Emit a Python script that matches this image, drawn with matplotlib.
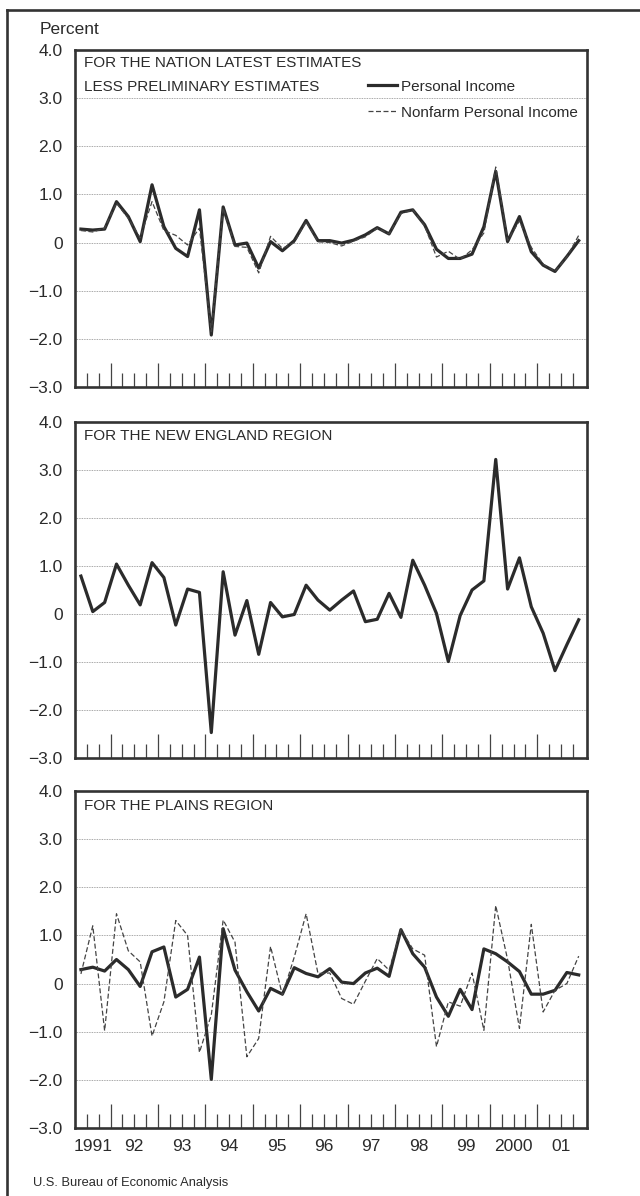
import matplotlib.pyplot as plt
import matplotlib.transforms as mtransforms
from matplotlib.lines import Line2D
import numpy as np

# quarterly data, 1991:II to 2001:IV
year_labels = ['1991', '92', '93', '94', '95', '96', '97', '98', '99', '2000', '01']

nation_pi = [0.28, 0.26, 0.28, 0.85, 0.54, 0.02, 1.2, 0.33, -0.12, -0.29, 0.68,
             -1.92, 0.74, -0.05, -0.01, -0.53, 0.02, -0.17, 0.04, 0.46, 0.04,
             0.04, -0.01, 0.05, 0.16, 0.31, 0.18, 0.63, 0.68, 0.37, -0.14, -0.33,
             -0.33, -0.24, 0.33, 1.48, 0.02, 0.54, -0.19, -0.47, -0.6, -0.29, 0.04]
nation_nonfarm = [0.25, 0.22, 0.3, 0.82, 0.5, 0.1, 0.85, 0.25, 0.15, -0.05, 0.3,
                  -1.85, 0.72, -0.08, -0.1, -0.63, 0.13, -0.12, 0.0, 0.44, 0.02,
                  0.0, -0.07, 0.03, 0.12, 0.3, 0.18, 0.6, 0.68, 0.35, -0.3, -0.18,
                  -0.35, -0.15, 0.2, 1.57, 0.05, 0.45, -0.1, -0.45, -0.6, -0.3, 0.15]
new_england_pi = [0.79, 0.05, 0.24, 1.04, 0.6, 0.19, 1.07, 0.76, -0.23, 0.52, 0.45,
                  -2.47, 0.88, -0.44, 0.28, -0.84, 0.24, -0.06, -0.01, 0.6, 0.29,
                  0.08, 0.29, 0.48, -0.16, -0.11, 0.43, -0.07, 1.12, 0.6, 0.01, -0.99,
                  -0.03, 0.5, 0.69, 3.22, 0.52, 1.17, 0.15, -0.4, -1.18, -0.64, -0.12]
plains_pi = [0.29, 0.34, 0.26, 0.5, 0.29, -0.06, 0.66, 0.76, -0.28, -0.12, 0.55,
             -1.99, 1.14, 0.28, -0.17, -0.57, -0.1, -0.22, 0.33, 0.21, 0.14,
             0.31, 0.03, 0.0, 0.22, 0.32, 0.15, 1.12, 0.62, 0.34, -0.28, -0.68,
             -0.12, -0.54, 0.72, 0.62, 0.45, 0.25, -0.22, -0.22, -0.14, 0.23, 0.18]
plains_nonfarm = [0.2, 1.2, -0.98, 1.45, 0.68, 0.45, -1.09, -0.38, 1.31, 1.0, -1.43,
                  -0.65, 1.32, 0.86, -1.52, -1.14, 0.77, -0.24, 0.55, 1.45, 0.21,
                  0.22, -0.31, -0.43, 0.05, 0.52, 0.28, 1.12, 0.72, 0.59, -1.31, -0.38,
                  -0.47, 0.22, -0.97, 1.62, 0.5, -0.93, 1.23, -0.59, -0.14, 0.0, 0.57]

y_ticks = [-3, -2, -1, 0, 1, 2, 3, 4]
y_ticklabels = ['\u22123.0', '\u22122.0', '\u22121.0', '0', '1.0', '2.0', '3.0', '4.0']

x = np.arange(len(nation_pi))
year_bounds = np.arange(2.5, 39, 4)
quarter_bounds = [q for q in np.arange(0.5, 42, 1.0) if (q - 2.5) % 4 != 0]
year_centers = [1.0] + list(year_bounds + 2.0)

plt.rcParams['font.family'] = ['Liberation Sans', 'DejaVu Sans']
dark = '#2b2b2b'
label_size = 11

fig = plt.figure(figsize=(6.4, 11.96), dpi=100)
H = 1196.0
W = 640.0


def panel(top_px, bottom_px):
    ax = fig.add_axes([75 / W, 1 - bottom_px / H, 512 / W, (bottom_px - top_px) / H])
    ax.set_xlim(-0.5, 42.7)
    ax.set_ylim(-3, 4)
    ax.set_yticks(y_ticks)
    ax.set_yticklabels(y_ticklabels)
    ax.tick_params(axis='y', length=0, pad=9, labelsize=12.5, labelcolor=dark)
    ax.set_xticks(year_bounds)
    ax.set_xticks(quarter_bounds, minor=True)
    ax.tick_params(axis='x', which='major', direction='in', length=17, width=0.9,
                   color='#444', labelbottom=False)
    ax.tick_params(axis='x', which='minor', direction='in', length=10, width=0.9,
                   color='#444')
    ax.grid(axis='y', linestyle=(0, (1, 1)), linewidth=0.6, color='#8a8a8a')
    for s in ax.spines.values():
        s.set_linewidth(1.9)
        s.set_color('#333333')
    return ax


ax1 = panel(50, 387)
ax1.plot(x, nation_pi, color=dark, lw=2.3, label='Personal Income', zorder=3)
ax1.plot(x, nation_nonfarm, color='#444', lw=0.9, ls=(0, (4, 2)),
         label='Nonfarm Personal Income', zorder=4)
ax1.text(0.0176, 0.961, 'FOR THE NATION LATEST ESTIMATES', transform=ax1.transAxes,
         fontsize=label_size, va='center', color=dark)
ax1.text(0.0176, 0.89, 'LESS PRELIMINARY ESTIMATES', transform=ax1.transAxes,
         fontsize=label_size, va='center', color=dark)
ax1.legend(loc='upper left', bbox_to_anchor=(0.572, 0.912), frameon=False,
           prop={'size': label_size}, handlelength=1.9,
           handletextpad=0.25, borderpad=0, borderaxespad=0, labelspacing=0.78,
           labelcolor=dark)

ax2 = panel(422, 758)
ax2.plot(x, new_england_pi, color=dark, lw=2.3, zorder=3)
ax2.text(0.0176, 0.958, 'FOR THE NEW ENGLAND REGION', transform=ax2.transAxes,
         fontsize=label_size, va='center', color=dark)

ax3 = panel(791, 1128)
ax3.plot(x, plains_pi, color=dark, lw=2.3, zorder=3)
ax3.plot(x, plains_nonfarm, color='#444', lw=0.9, ls=(0, (4, 2)), zorder=4)
ax3.text(0.0176, 0.955, 'FOR THE PLAINS REGION', transform=ax3.transAxes,
         fontsize=label_size, va='center', color=dark)
trans = mtransforms.blended_transform_factory(ax3.transData, ax3.transAxes)
for xc, lab in zip(year_centers, year_labels):
    ax3.text(xc, -0.0555, lab, transform=trans, ha='center', va='center',
             fontsize=12.5, color=dark, clip_on=False)

fig.text(40 / W, 1 - 30 / H, 'Percent', fontsize=12.5, va='center', color=dark)
fig.text(33 / W, 1 - 1183 / H, 'U.S. Bureau of Economic Analysis',
         fontsize=9.3, va='center', color=dark)

# outer border: top and left only
fig.add_artist(Line2D([7 / W, 1.0], [1 - 10 / H, 1 - 10 / H], transform=fig.transFigure,
                      color='#333333', lw=1.9))
fig.add_artist(Line2D([7 / W, 7 / W], [0, 1 - 10 / H], transform=fig.transFigure,
                      color='#333333', lw=1.9))

fig.savefig('out.png', dpi=100)
